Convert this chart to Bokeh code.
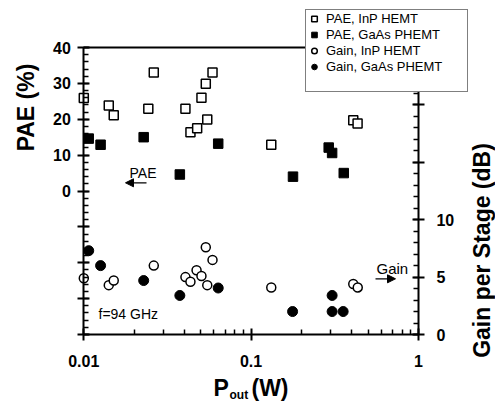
import math
from bokeh.plotting import figure
from bokeh.models import (LinearAxis, LogAxis, Range1d, FixedTicker, Legend, LegendItem, Label,
                          Arrow, NormalHead, CustomJSTickFormatter)
from bokeh.embed import file_html
from bokeh.resources import INLINE

# ---- data ----
pae_inp_p = [0.010, 0.0141, 0.0151, 0.0262, 0.0243, 0.0405, 0.0434, 0.0476, 0.0505, 0.0536, 0.0588, 0.0547, 0.132, 0.408, 0.433]
pae_inp = [25.9, 23.8, 21.1, 33.0, 22.9, 22.9, 16.4, 17.5, 26.0, 29.9, 33.0, 19.9, 12.9, 19.7, 18.8]

pae_gaas_p = [0.0107, 0.0126, 0.0228, 0.0375, 0.0636, 0.178, 0.291, 0.305, 0.358]
pae_gaas = [14.6, 12.9, 15.0, 4.6, 13.2, 4.0, 12.1, 10.6, 5.0]

gain_inp_p = [0.010, 0.0141, 0.0151, 0.0262, 0.0405, 0.0434, 0.0472, 0.0505, 0.0536, 0.0588, 0.0547, 0.132, 0.408, 0.434]
gain_inp = [4.9, 4.3, 4.7, 6.0, 5.0, 4.6, 5.6, 5.1, 7.6, 6.5, 4.3, 4.1, 4.4, 4.1]

gain_gaas_p = [0.0107, 0.0126, 0.0228, 0.0375, 0.0636, 0.177, 0.305, 0.305, 0.355]
gain_gaas = [7.3, 6.0, 4.7, 3.4, 4.05, 2.0, 3.4, 2.0, 2.0]

x_ticks = [0.01, 0.1, 1]
x_minor = [m * d for d in (0.01, 0.1) for m in range(2, 10)]
pae_ticks = list(range(-40, 41, 10))
pae_minor = list(range(-40, 41, 2))
gain_ticks = list(range(0, 26, 5))
gain_minor = list(range(0, 26))

legend_labels = ["PAE, InP HEMT", "PAE, GaAs PHEMT", "Gain, InP HEMT", "Gain, GaAs PHEMT"]

FONT = "Liberation Sans"
W, H = 495, 402
# pixel geometry of the plotting box inside the page
X0_PX, DEC_PX = 83.3, 167.3          # x of P=0.01, pixels per decade
Y_TOP, Y_BOT = 47.0, 334.0           # pixels of PAE=40 / PAE=-40 (Gain 25 / 0)

x_lo = 10 ** (-2 - X0_PX / DEC_PX)
x_hi = 10 ** (-2 + (W - X0_PX) / DEC_PX)
pae_px = (Y_BOT - Y_TOP) / 80.0
gain_px = (Y_BOT - Y_TOP) / 25.0
y_hi = 40 + Y_TOP / pae_px
y_lo = -40 - (H - Y_BOT) / pae_px
g_hi = 25 + Y_TOP / gain_px
g_lo = -(H - Y_BOT) / gain_px


def xd(px):
    return 10 ** (-2 + (px - X0_PX) / DEC_PX)


def yd(py):
    return 40 - (py - Y_TOP) / pae_px


def gd(py):
    return (Y_BOT - py) / gain_px


p = figure(width=W, height=H, x_axis_type=None, y_axis_type=None, x_axis_location=None,
           y_axis_location=None,
           x_range=Range1d(x_lo, x_hi), y_range=Range1d(y_lo, y_hi),
           output_backend="svg", toolbar_location=None, min_border=0)
p.x_scale = __import__("bokeh.models", fromlist=["LogScale"]).LogScale()
p.extra_y_ranges = {"gain": Range1d(g_lo, g_hi)}
p.outline_line_color = None
p.background_fill_color = "white"
p.border_fill_color = "white"


def style_axis(ax):
    ax.axis_line_width = 2
    ax.axis_line_color = "black"
    ax.major_tick_line_width = 2
    ax.minor_tick_line_width = 1.5
    ax.major_tick_line_color = "black"
    ax.minor_tick_line_color = "black"
    ax.major_tick_in = 6
    ax.major_tick_out = 6
    ax.minor_tick_in = 5
    ax.minor_tick_out = 0
    ax.major_label_text_font = FONT
    ax.major_label_text_font_style = "bold"
    ax.major_label_text_font_size = "16px"
    ax.major_label_text_color = "black"


xa = LogAxis(fixed_location=-40, bounds=(0.01, 1),
             ticker=FixedTicker(ticks=x_ticks, minor_ticks=x_minor),
             formatter=CustomJSTickFormatter(code="return tick.toString()"))
style_axis(xa)
xa.major_label_standoff = 14
p.add_layout(xa, "below")

ya = LinearAxis(fixed_location=0.01, bounds=(-40, 40),
                ticker=FixedTicker(ticks=pae_ticks, minor_ticks=pae_minor),
                formatter=CustomJSTickFormatter(code="return tick >= 0 ? tick.toFixed(0) : ''"))
style_axis(ya)
ya.major_label_standoff = 7
p.add_layout(ya, "left")

ra = LinearAxis(y_range_name="gain", fixed_location=1, bounds=(0, 25),
                ticker=FixedTicker(ticks=gain_ticks, minor_ticks=gain_minor),
                formatter=CustomJSTickFormatter(code="return tick <= 10 ? tick.toFixed(0) : ''"))
style_axis(ra)
ra.major_label_standoff = 12
p.add_layout(ra, "right")

ta = LinearAxis(fixed_location=40, bounds=(0.01, 1), ticker=FixedTicker(ticks=[]))
ta.axis_line_width = 2
ta.axis_line_color = "black"
ta.major_tick_out = 0
ta.major_tick_in = 0
ta.minor_tick_out = 0
ta.minor_tick_in = 0
ta.major_label_text_font_size = "0px"
p.add_layout(ta, "above")

# ---- markers ----
r1 = p.scatter(pae_inp_p, pae_inp, marker="square", size=9, fill_color="white",
               line_color="black", line_width=1.5)
r2 = p.scatter(pae_gaas_p, pae_gaas, marker="square", size=9.5, fill_color="black",
               line_color="black", line_width=1)
r3 = p.scatter(gain_inp_p, gain_inp, marker="circle", size=9, fill_color="white",
               line_color="black", line_width=1.5, y_range_name="gain")
r4 = p.scatter(gain_gaas_p, gain_gaas, marker="circle", size=10, fill_color="black",
               line_color="black", line_width=1, y_range_name="gain")
rdummy = p.scatter([], [], marker="circle", size=1, fill_alpha=0, line_alpha=0)

legend = Legend(items=[LegendItem(label=legend_labels[0], renderers=[r1]),
                       LegendItem(label=legend_labels[1], renderers=[r2]),
                       LegendItem(label=legend_labels[2], renderers=[r3]),
                       LegendItem(label=legend_labels[3], renderers=[r4]),
                       LegendItem(label=" ", renderers=[rdummy])],
                location=(305, H - 92))
legend.border_line_color = "black"
legend.border_line_width = 1
legend.background_fill_color = "white"
legend.background_fill_alpha = 1
legend.label_text_font = FONT
legend.label_text_font_size = "13px"
legend.label_text_color = "black"
legend.glyph_width = 14
legend.glyph_height = 15
legend.label_height = 15
legend.label_width = 140
legend.label_standoff = 5
legend.spacing = 1
legend.padding = 1
legend.margin = 0
p.add_layout(legend)

# ---- annotations ----
head = dict(size=8, fill_color="black", line_color="black")
p.add_layout(Label(x=xd(129), y=yd(172), text="PAE", text_font=FONT, text_font_size="14px",
                   text_color="black", text_baseline="middle"))
p.add_layout(Arrow(x_start=xd(146), y_start=yd(182.3), x_end=xd(125), y_end=yd(182.3),
                   line_width=1.2, end=NormalHead(**head)))
p.add_layout(Label(x=xd(376), y=gd(267.5), y_range_name="gain", text="Gain", text_font=FONT,
                   text_font_size="15px", text_color="black", text_baseline="middle"))
p.add_layout(Arrow(x_start=xd(375), y_start=gd(278.3), x_end=xd(395), y_end=gd(278.3),
                   y_range_name="gain", line_width=1.2, end=NormalHead(**head)))
p.add_layout(Label(x=xd(98), y=yd(313), text="f=94 GHz", text_font=FONT, text_font_size="14px",
                   text_color="black", text_baseline="middle"))

# axis titles
title_style = dict(text_font=FONT, text_font_style="bold", text_color="black")
p.add_layout(Label(x=xd(25), y=yd(107), text="PAE (%)", angle=math.pi / 2, text_align="center",
                   text_baseline="middle", text_font_size="23px", **title_style))
p.add_layout(Label(x=xd(481), y=yd(250), text="Gain per Stage (dB)", angle=math.pi / 2,
                   text_align="center", text_baseline="middle", text_font_size="23px",
                   **title_style))
p.add_layout(Label(x=xd(213), y=yd(387.5), text="P", text_baseline="middle",
                   text_font_size="23px", **title_style))
p.add_layout(Label(x=xd(229), y=yd(394), text="out", text_baseline="middle",
                   text_font_size="12px", **title_style))
p.add_layout(Label(x=xd(251), y=yd(387.5), text="(W)", text_baseline="middle",
                   text_font_size="23px", **title_style))

open("out.html", "w").write(file_html(p, INLINE))
